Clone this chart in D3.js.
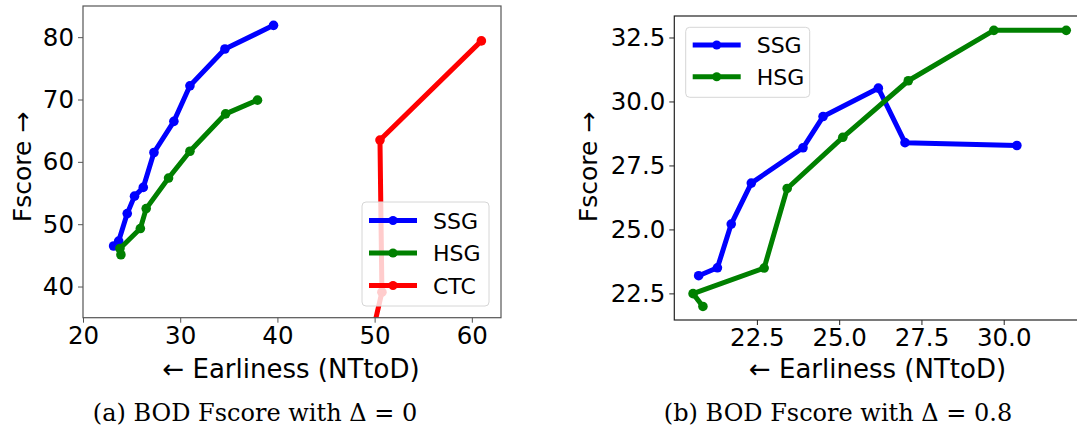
<!DOCTYPE html>
<meta charset="utf-8">
<title>BOD Fscore</title>
<style>
  body { margin: 0; background: white; }
  svg text { font-family: "DejaVu Sans", sans-serif; fill: #000; }
  .caption { font-family: "DejaVu Serif", "Liberation Serif", serif; }
</style>
<body>
<svg width="1077" height="433"></svg>
<script src="https://cdnjs.cloudflare.com/ajax/libs/d3/7.8.5/d3.min.js"></script>
<script>
// ---- data ----
// left panel: Delta = 0
var ssgA_x = [23.15, 23.67, 24.55, 25.3, 26.2, 27.3, 29.35, 31.0, 34.6, 39.6];
var ssgA_y = [46.5, 47.3, 51.7, 54.5, 55.9, 61.5, 66.5, 72.2, 78.1, 81.9];
var hsgA_x = [23.9, 23.8, 25.9, 26.5, 28.8, 31.0, 34.67, 37.95];
var hsgA_y = [45.1, 46.1, 49.3, 52.5, 57.4, 61.7, 67.7, 69.9];
var ctcA_x = [49.4, 50.75, 50.55, 60.98];
var ctcA_y = [30.0, 39.1, 63.5, 79.4];
var xTicksA = [20, 30, 40, 50, 60];
var yTicksA = [40, 50, 60, 70, 80];

// right panel: Delta = 0.8
var ssgB_x = [20.73, 21.3, 21.72, 22.33, 23.9, 24.51, 26.19, 27.0, 30.4];
var ssgB_y = [23.19, 23.5, 25.21, 26.81, 28.19, 29.41, 30.52, 28.39, 28.28];
var hsgB_x = [20.86, 20.56, 22.72, 23.42, 25.11, 27.1, 29.7, 31.9];
var hsgB_y = [21.99, 22.49, 23.49, 26.6, 28.6, 30.81, 32.78, 32.78];
var xTicksB = [22.5, 25.0, 27.5, 30.0];
var yTicksB = [22.5, 25.0, 27.5, 30.0, 32.5];

var svg = d3.select("svg");

function zip(xs, ys) { return xs.map(function(x, i) { return [x, ys[i]]; }); }

function panel(opt) {
  var x = d3.scaleLinear().domain(opt.xdom).range([opt.left, opt.right]);
  var y = d3.scaleLinear().domain(opt.ydom).range([opt.bottom, opt.top]);
  var g = svg.append("g");

  g.append("clipPath").attr("id", opt.id)
    .append("rect")
    .attr("x", opt.left).attr("y", opt.top)
    .attr("width", opt.right - opt.left).attr("height", opt.bottom - opt.top);

  var plot = g.append("g").attr("clip-path", "url(#" + opt.id + ")");
  var line = d3.line().x(function(d) { return x(d[0]); }).y(function(d) { return y(d[1]); });

  opt.series.forEach(function(s) {
    var pts = zip(s.x, s.y);
    plot.append("path").datum(pts)
      .attr("d", line).attr("fill", "none")
      .attr("stroke", s.color).attr("stroke-width", 5)
      .attr("stroke-linejoin", "round");
    plot.selectAll(null).data(pts).enter().append("circle")
      .attr("cx", function(d) { return x(d[0]); })
      .attr("cy", function(d) { return y(d[1]); })
      .attr("r", 4.8).attr("fill", s.color);
  });

  // axes
  var xa = g.append("g").attr("transform", "translate(0," + opt.bottom + ")")
    .call(d3.axisBottom(x).tickValues(opt.xticks).tickSize(5).tickPadding(4).tickFormat(opt.fmt));
  var ya = g.append("g").attr("transform", "translate(" + opt.left + ",0)")
    .call(d3.axisLeft(y).tickValues(opt.yticks).tickSize(5).tickPadding(4).tickFormat(opt.fmt));
  [xa, ya].forEach(function(a) {
    a.select(".domain").remove();
    a.selectAll("line").attr("stroke", opt.spine);
    a.selectAll("text").style("font-size", "24.5px").attr("font-family", "DejaVu Sans");
  });

  g.append("rect")
    .attr("x", opt.left).attr("y", opt.top)
    .attr("width", opt.right - opt.left).attr("height", opt.bottom - opt.top)
    .attr("fill", "none").attr("stroke", opt.spine).attr("stroke-width", 1.2);

  // legend
  var lg = opt.legend;
  g.append("rect")
    .attr("x", lg.x).attr("y", lg.y).attr("width", lg.w).attr("height", lg.h)
    .attr("rx", 4).attr("fill", "white").attr("fill-opacity", 0.8)
    .attr("stroke", "#d6d6d6").attr("stroke-width", 1);
  opt.series.forEach(function(s, i) {
    var yy = lg.y + lg.first + i * lg.step;
    g.append("line").attr("x1", lg.x + 7).attr("x2", lg.x + 55)
      .attr("y1", yy).attr("y2", yy)
      .attr("stroke", s.color).attr("stroke-width", 5);
    g.append("circle").attr("cx", lg.x + 31).attr("cy", yy).attr("r", 4.5).attr("fill", s.color);
    g.append("text").attr("x", lg.x + 71).attr("y", yy + 8)
      .style("font-size", "22px").text(s.name);
  });

  // axis labels
  g.append("text")
    .attr("x", opt.xlabelX).attr("y", 378).attr("text-anchor", "middle")
    .style("font-size", "26px").text("\u2190 Earliness (NTtoD)");
  g.append("text")
    .attr("transform", "translate(" + opt.ylabelX + ",167) rotate(-90)")
    .attr("text-anchor", "middle")
    .style("font-size", "25px").text("Fscore \u2192");

  g.append("text").attr("class", "caption")
    .attr("x", opt.capX).attr("y", 421).attr("text-anchor", "middle")
    .style("font-size", "24px").text(opt.caption);
}

panel({
  id: "clipA", left: 83, right: 501, top: 6, bottom: 317.7,
  xdom: [20, 63], ydom: [35, 85],
  xticks: xTicksA, yticks: yTicksA, fmt: d3.format("d"),
  spine: "#555",
  series: [
    { name: "SSG", color: "blue", x: ssgA_x, y: ssgA_y },
    { name: "HSG", color: "green", x: hsgA_x, y: hsgA_y },
    { name: "CTC", color: "red", x: ctcA_x, y: ctcA_y }
  ],
  legend: { x: 362, y: 202, w: 127, h: 104, first: 18.5, step: 32.5 },
  xlabelX: 291, ylabelX: 30.5, capX: 255,
  caption: "(a) BOD Fscore with \u0394 = 0"
});

panel({
  id: "clipB", left: 674.3, right: 1085, top: 16, bottom: 320,
  xdom: [19.99, 32.47], ydom: [21.46, 33.34],
  xticks: xTicksB, yticks: yTicksB, fmt: d3.format(".1f"),
  spine: "#222",
  series: [
    { name: "SSG", color: "blue", x: ssgB_x, y: ssgB_y },
    { name: "HSG", color: "green", x: hsgB_x, y: hsgB_y }
  ],
  legend: { x: 685.7, y: 27.3, w: 124, h: 70, first: 17.7, step: 31.7 },
  xlabelX: 877.5, ylabelX: 596.5, capX: 838,
  caption: "(b) BOD Fscore with \u0394 = 0.8"
});
</script>
</body>
